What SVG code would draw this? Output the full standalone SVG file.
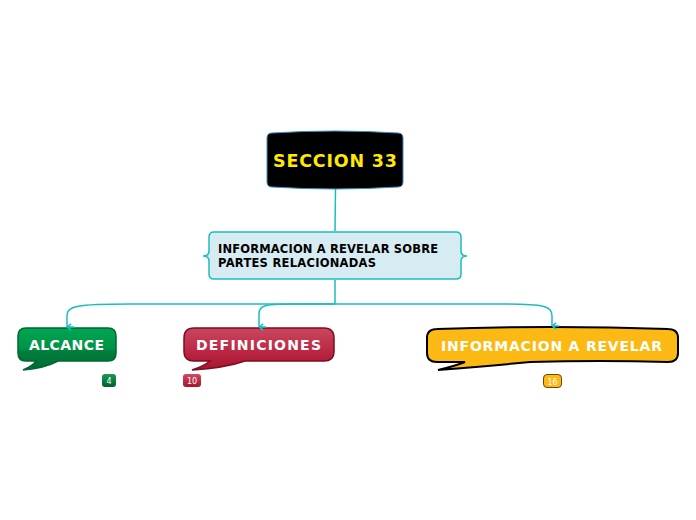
<svg xmlns="http://www.w3.org/2000/svg" width="696" height="520" viewBox="0 0 696 520">
<defs>
<linearGradient id="gGreen" x1="0" y1="0" x2="0" y2="1"><stop offset="0" stop-color="#00a651"/><stop offset="0.5" stop-color="#009246"/><stop offset="0.55" stop-color="#007f3c"/><stop offset="1" stop-color="#006b33"/></linearGradient>
<linearGradient id="gRed" x1="0" y1="0" x2="0" y2="1"><stop offset="0" stop-color="#c9475f"/><stop offset="0.5" stop-color="#be2a45"/><stop offset="1" stop-color="#a8142f"/></linearGradient>
<linearGradient id="gBadgeG" x1="0" y1="0" x2="0" y2="1"><stop offset="0" stop-color="#1a9a55"/><stop offset="1" stop-color="#005f2c"/></linearGradient>
<linearGradient id="gBadgeR" x1="0" y1="0" x2="0" y2="1"><stop offset="0" stop-color="#d04a62"/><stop offset="1" stop-color="#a8142f"/></linearGradient>
<marker id="arr" viewBox="0 0 10 10" refX="5" refY="9" markerWidth="9" markerHeight="9" orient="auto" markerUnits="userSpaceOnUse"><path d="M1.5,4.5 L5,8.5 L8.5,4.5 M5,8.5 V1" fill="none" stroke="#1dbdbd" stroke-width="1.8"/></marker>
</defs>
<style>
.conn{fill:none;stroke:#1dbdbd;stroke-width:1.5}
.t{font-family:Verdana,"DejaVu Sans",sans-serif;font-weight:bold}
.badge{font-family:"DejaVu Sans",sans-serif;font-size:8px;fill:#fff}
</style>
<rect width="696" height="520" fill="#fff"/>
<g id="seccion33">
<path d="M267,138 Q267,133 272,133 Q335,129 398,133 Q403,133 403,138 V182 Q403,187 398,187 Q335,191 272,187 Q267,187 267,182 Z" fill="#000" stroke="#3b8fc0" stroke-width="1"/>
<text class="t" x="273" y="167" font-size="17.5" fill="#ffea00" textLength="124" lengthAdjust="spacing">SECCION 33</text>
</g>
<g id="info-partes">
<path d="M214,232 H456 Q461,232 461,237 V251 Q461,256 467,256 Q461,256 461,261 V274 Q461,279 456,279 H214 Q209,279 209,274 V261 Q209,256 203,256 Q209,256 209,251 V237 Q209,232 214,232 Z" fill="#d7ebf2" stroke="#1dbdbd" stroke-width="1.5"/>
<text class="t" font-size="11.5" fill="#000"><tspan x="218" y="253" textLength="220" lengthAdjust="spacing">INFORMACION A REVELAR SOBRE</tspan><tspan x="218" y="267" textLength="158" lengthAdjust="spacing">PARTES RELACIONADAS</tspan></text>
</g>
<g id="alcance">
<path d="M26,328 H108 Q116,328 116,336 V353 Q116,361 108,361 H58 Q45,368 23,370 Q33,366 36,361 H26 Q18,361 18,353 V336 Q18,328 26,328 Z" fill="url(#gGreen)" stroke="#006633" stroke-width="1.5"/>
<text class="t" x="29" y="350" font-size="14" fill="#fff" textLength="75" lengthAdjust="spacing">ALCANCE</text>
<rect x="102" y="374" width="14" height="13" rx="3" fill="url(#gBadgeG)"/>
<text class="badge" x="109" y="384" text-anchor="middle">4</text>
</g>
<g id="definiciones">
<path d="M194,328 H324 Q334,328 334,338 V352 Q334,361 324,361 H245 Q225,368 192,370 Q204,366 210,361 H194 Q184,361 184,352 V338 Q184,328 194,328 Z" fill="url(#gRed)" stroke="#7a0e22" stroke-width="1.5"/>
<text class="t" x="196" y="350" font-size="14" fill="#fff" textLength="125" lengthAdjust="spacing">DEFINICIONES</text>
<rect x="183" y="374" width="18" height="13" rx="3" fill="url(#gBadgeR)"/>
<text class="badge" x="192" y="384" text-anchor="middle">10</text>
</g>
<g id="info-revelar">
<path d="M437,329 Q552,325 668,329 Q678,329 678,338 V353 Q678,362 668,362 Q600,360 530,362 Q490,366 438,370 Q455,366 465,362 H437 Q427,362 427,353 V338 Q427,329 437,329 Z" fill="#fdb913" stroke="#000" stroke-width="2"/>
<text class="t" x="441" y="351" font-size="14" fill="#fff" textLength="221" lengthAdjust="spacing">INFORMACION A REVELAR</text>
<rect x="543.5" y="374.5" width="18" height="13" rx="3.5" fill="#fdb913" stroke="#6b4a00" stroke-width="1"/>
<text class="badge" x="552.5" y="384.5" text-anchor="middle">16</text>
</g>
<g id="connectors">
<path class="conn" d="M335.5,189 L335,231"/>
<path class="conn" d="M335,280 V304"/>
<path class="conn" d="M335,304 H130 C76,304 67,306 67,316 V327" marker-end="url(#arr)"/>
<path class="conn" d="M335,304 H292 C263,304 259,306 259,314 V327" marker-end="url(#arr)"/>
<path class="conn" d="M335,304 H500 C545,304 552,306 552,316 V326" marker-end="url(#arr)"/>
</g>
</svg>
